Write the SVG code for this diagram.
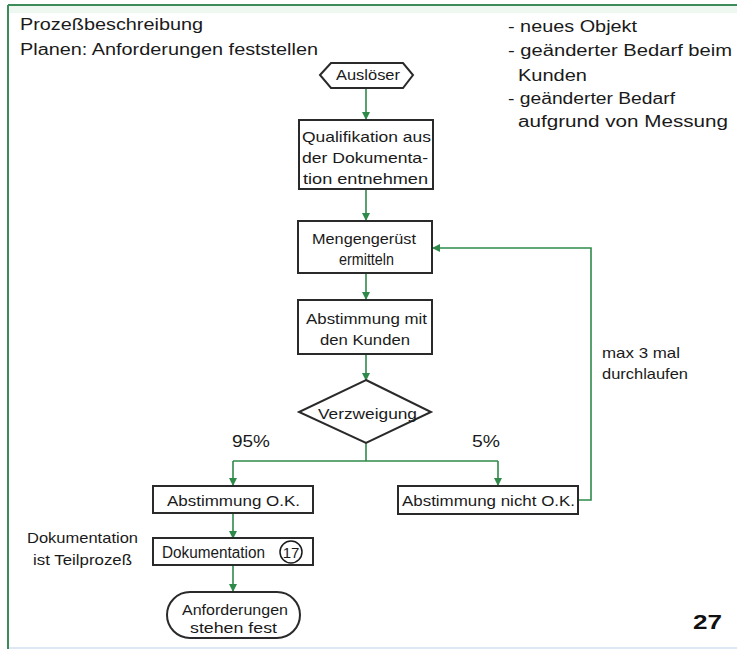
<svg xmlns="http://www.w3.org/2000/svg" width="737" height="655" viewBox="0 0 737 655">
<defs>
<style>
.t{font-family:"Liberation Sans",Arial,sans-serif;font-size:16px;fill:#1a1a1a}
.b{font-family:"Liberation Sans",Arial,sans-serif;font-size:15px;fill:#1a1a1a}
.box{fill:#fff;stroke:#2a2a2a;stroke-width:2}
.c{fill:none;stroke:#2f8a4a;stroke-width:1.6}
</style>
<marker id="ah" markerWidth="8" markerHeight="8" refX="7" refY="4" orient="auto" markerUnits="userSpaceOnUse">
<path d="M0,0 L8,4 L0,8 z" fill="#2f8a4a"/>
</marker>
</defs>
<rect width="737" height="655" fill="#fff"/>
<rect x="9" y="6" width="728" height="7" fill="#eef8f0"/>
<line x1="8" y1="5" x2="737" y2="5" stroke="#3c8c5a" stroke-width="2"/>
<line x1="8" y1="5" x2="8" y2="649" stroke="#3c8c5a" stroke-width="2"/>
<line x1="9" y1="648" x2="737" y2="648" stroke="#dde8f4" stroke-width="2"/>

<g id="header">
<text class="t" x="20" y="30" textLength="183" lengthAdjust="spacingAndGlyphs">Prozeßbeschreibung</text>
<text class="t" x="20" y="55" textLength="298" lengthAdjust="spacingAndGlyphs">Planen: Anforderungen feststellen</text>
</g>
<g id="notes">
<text class="t" x="508" y="32" textLength="129" lengthAdjust="spacingAndGlyphs">- neues Objekt</text>
<text class="t" x="508" y="56" textLength="224" lengthAdjust="spacingAndGlyphs">- geänderter Bedarf beim</text>
<text class="t" x="518" y="81" textLength="69" lengthAdjust="spacingAndGlyphs">Kunden</text>
<text class="t" x="508" y="104" textLength="167" lengthAdjust="spacingAndGlyphs">- geänderter Bedarf</text>
<text class="t" x="518" y="127" textLength="210" lengthAdjust="spacingAndGlyphs">aufgrund  von Messung</text>
</g>

<g id="connectors">
<line class="c" x1="366" y1="88" x2="366" y2="119" marker-end="url(#ah)"/>
<line class="c" x1="366" y1="189" x2="366" y2="220" marker-end="url(#ah)"/>
<line class="c" x1="366" y1="273" x2="366" y2="299" marker-end="url(#ah)"/>
<line class="c" x1="366" y1="354" x2="366" y2="380" marker-end="url(#ah)"/>
<polyline class="c" points="366,443 366,461"/>
<polyline class="c" points="233,461 498,461"/>
<line class="c" x1="233" y1="461" x2="233" y2="485" marker-end="url(#ah)"/>
<line class="c" x1="498" y1="461" x2="498" y2="485" marker-end="url(#ah)"/>
<polyline class="c" points="578,500 591,500 591,248 433,248" marker-end="url(#ah)"/>
<line class="c" x1="233" y1="513" x2="233" y2="538" marker-end="url(#ah)"/>
<line class="c" x1="233" y1="565" x2="233" y2="591" marker-end="url(#ah)"/>
</g>

<g id="ausloeser">
<polygon class="box" points="320,75 331,63 403,63 413,75 403,88 331,88"/>
<text class="b" x="336" y="80" textLength="64" lengthAdjust="spacingAndGlyphs">Auslöser</text>
</g>
<g id="qualifikation">
<rect class="box" x="299" y="120" width="134" height="69"/>
<text class="b" x="302" y="142" textLength="129" lengthAdjust="spacingAndGlyphs">Qualifikation aus</text>
<text class="b" x="302" y="163" textLength="126" lengthAdjust="spacingAndGlyphs">der Dokumenta-</text>
<text class="b" x="303" y="184" textLength="125" lengthAdjust="spacingAndGlyphs">tion entnehmen</text>
</g>
<g id="mengengeruest">
<rect class="box" x="298" y="221" width="134" height="52"/>
<text class="b" x="312" y="244" textLength="104" lengthAdjust="spacingAndGlyphs">Mengengerüst</text>
<text class="b" x="339" y="265" style="font-size:17px" textLength="55" lengthAdjust="spacingAndGlyphs">ermitteln</text>
</g>
<g id="abstimmung">
<rect class="box" x="298" y="300" width="134" height="54"/>
<text class="b" x="306" y="324" textLength="121" lengthAdjust="spacingAndGlyphs">Abstimmung mit</text>
<text class="b" x="320" y="345" textLength="90" lengthAdjust="spacingAndGlyphs">den Kunden</text>
</g>
<g id="verzweigung">
<polygon class="box" points="366,380 431,412 366,443 299,412"/>
<text class="b" x="318" y="419" textLength="99" lengthAdjust="spacingAndGlyphs">Verzweigung</text>
</g>
<g id="labels">
<text class="t" x="232" y="447" textLength="38" lengthAdjust="spacingAndGlyphs">95%</text>
<text class="t" x="472" y="447" textLength="28" lengthAdjust="spacingAndGlyphs">5%</text>
<text class="b" x="602" y="358" textLength="78" lengthAdjust="spacingAndGlyphs">max 3 mal</text>
<text class="b" x="602" y="379" textLength="86" lengthAdjust="spacingAndGlyphs">durchlaufen</text>
<text class="b" x="27" y="543" textLength="111" lengthAdjust="spacingAndGlyphs">Dokumentation</text>
<text class="b" x="33" y="565" textLength="99" lengthAdjust="spacingAndGlyphs">ist Teilprozeß</text>
<text x="693" y="629" font-family="'Liberation Sans',Arial,sans-serif" font-size="21" font-weight="bold" fill="#111" textLength="29" lengthAdjust="spacingAndGlyphs">27</text>
</g>
<g id="ok">
<rect class="box" x="153" y="486" width="160" height="27"/>
<text class="b" x="167" y="506" textLength="133" lengthAdjust="spacingAndGlyphs">Abstimmung O.K.</text>
</g>
<g id="nicht-ok">
<rect class="box" x="398" y="486" width="180" height="28"/>
<text class="b" x="402" y="506" textLength="173" lengthAdjust="spacingAndGlyphs">Abstimmung nicht O.K.</text>
</g>
<g id="dokumentation">
<rect class="box" x="153" y="538" width="160" height="27"/>
<text class="b" x="162" y="558" style="font-size:16px" textLength="103" lengthAdjust="spacingAndGlyphs">Dokumentation</text>
<circle cx="291" cy="552" r="11" fill="#fff" stroke="#1a1a1a" stroke-width="1.5"/>
<text class="b" x="291" y="558" text-anchor="middle">17</text>
</g>
<g id="ende">
<rect class="box" x="167" y="592" width="133" height="46" rx="23" ry="23"/>
<text class="b" x="182" y="615" textLength="106" lengthAdjust="spacingAndGlyphs">Anforderungen</text>
<text class="b" x="190" y="633" textLength="87" lengthAdjust="spacingAndGlyphs">stehen fest</text>
</g>
</svg>
